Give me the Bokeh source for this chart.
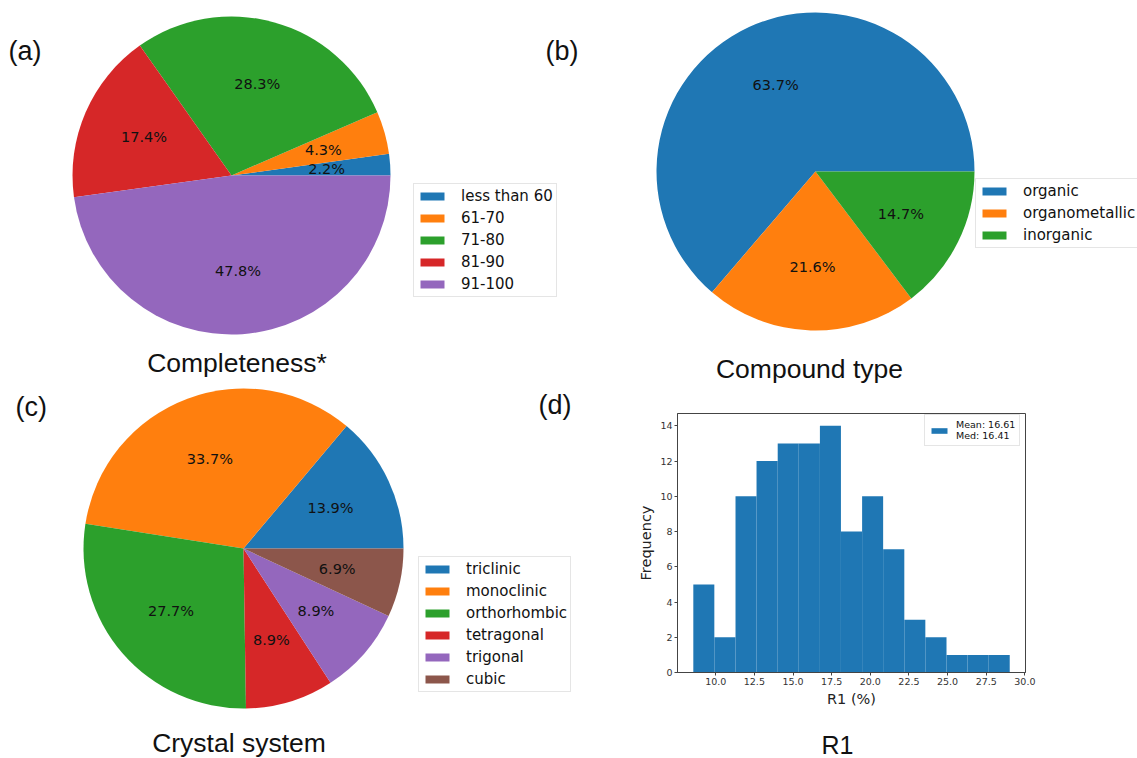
import numpy as np
from bokeh.plotting import figure
from bokeh.models import (ColumnDataSource, Range1d, Legend, LegendItem,
                          FixedTicker, PrintfTickFormatter)
from bokeh.layouts import column, row
from bokeh.core.properties import value
from bokeh.embed import file_html
from bokeh.resources import INLINE

# ---------------- data ----------------
completeness_labels = ["less than 60", "61-70", "71-80", "81-90", "91-100"]
completeness_counts = [1, 2, 13, 8, 22]

compound_labels = ["organic", "organometallic", "inorganic"]
compound_counts = [65, 22, 15]

crystal_labels = ["triclinic", "monoclinic", "orthorhombic", "tetragonal", "trigonal", "cubic"]
crystal_counts = [14, 34, 28, 9, 9, 7]

r1_bin_edges = [8.55, 9.91, 11.28, 12.64, 14.01, 15.37, 16.74, 18.10, 19.47,
                20.83, 22.20, 23.56, 24.93, 26.29, 27.66, 29.02]
r1_counts = [5, 2, 10, 12, 13, 13, 14, 8, 10, 7, 3, 2, 1, 1, 1]
r1_mean = 16.61
r1_median = 16.41
r1_xticks = [10.0, 12.5, 15.0, 17.5, 20.0, 22.5, 25.0, 27.5, 30.0]
r1_yticks = [0, 2, 4, 6, 8, 10, 12, 14]

# ---------------- style / layout ----------------
TAB = ["#1f77b4", "#ff7f0e", "#2ca02c", "#d62728", "#9467bd", "#8c564b"]
MPL_FONT = "DejaVu Sans"
TITLE_FONT = "Liberation Sans"
W, H = 1137, 758     # page size (y is flipped with H)
ROW_SPLIT = 386      # page y where the bottom row starts
COL_SPLIT = 600      # page x where the histogram panel starts
STRIP_TOP = 716      # page y where the strip under the histogram starts


def base_fig(w, h, xr, yr):
    p = figure(width=w, height=h, x_range=Range1d(*xr), y_range=Range1d(*yr),
               x_axis_type=None, y_axis_type=None, min_border=0,
               toolbar_location=None, output_backend="svg")
    p.outline_line_color = None
    p.background_fill_color = "white"
    p.border_fill_color = "white"
    p.frame_align = False
    return p


def add_text(p, x, y_center, txt, size, font, align="left"):
    p.text(x=[x], y=[H - y_center], text=[txt], text_font=value(font),
           text_font_size=size, text_align=align, text_baseline="middle",
           text_color="#111111")


def pie(p, cx, cy_page, r, labels, counts, legend_loc):
    c = np.array(counts, dtype=float)
    frac = c / c.sum()
    ends = np.cumsum(frac) * 2 * np.pi
    starts = np.concatenate([[0.0], ends[:-1]])
    mids = (starts + ends) / 2
    cy = H - cy_page
    src = ColumnDataSource(dict(
        start=starts, end=ends, color=TAB[:len(c)], label=labels,
        tx=cx + 0.6 * r * np.cos(mids), ty=cy + 0.6 * r * np.sin(mids),
        pct=[f"{100 * f:.1f}%" for f in frac]))
    wr = p.wedge(x=cx, y=cy, radius=r, start_angle="start", end_angle="end",
                 fill_color="color", line_color=None, source=src)
    p.text(x="tx", y="ty", text="pct", source=src, text_font=value(MPL_FONT),
           text_font_size="14.5px", text_align="center", text_baseline="middle",
           text_color="#111111")
    items = [LegendItem(label=l, renderers=[wr], index=i) for i, l in enumerate(labels)]
    leg = Legend(items=items, location=legend_loc, orientation="vertical",
                 label_text_font=MPL_FONT, label_text_font_size="15px",
                 label_text_color="#111111", glyph_width=30, glyph_height=10,
                 label_height=18, spacing=4, padding=3, label_standoff=14,
                 border_line_color="#cccccc", border_line_width=1,
                 background_fill_color="white", background_fill_alpha=0.8,
                 margin=0)
    p.add_layout(leg, "center")


# ---------------- top row: (a) and (b) ----------------
top = base_fig(W, ROW_SPLIT, (0, W), (H - ROW_SPLIT, H))
pie(top, 231, 175, 159, completeness_labels, completeness_counts, (413, ROW_SPLIT - 297))
pie(top, 815, 171, 159, compound_labels, compound_counts, (975, ROW_SPLIT - 248))
add_text(top, 8, 50, "(a)", "27px", TITLE_FONT)
add_text(top, 545, 50, "(b)", "27px", TITLE_FONT)
add_text(top, 236.5, 362.5, "Completeness*", "26.5px", TITLE_FONT, "center")
add_text(top, 809, 368.5, "Compound type", "26.5px", TITLE_FONT, "center")

# ---------------- bottom left: (c) ----------------
fc = base_fig(COL_SPLIT, H - ROW_SPLIT, (0, COL_SPLIT), (0, H - ROW_SPLIT))
pie(fc, 243, 548, 160, crystal_labels, crystal_counts, (418, H - 692))
add_text(fc, 15, 406.5, "(c)", "27px", TITLE_FONT)
add_text(fc, 538, 404.5, "(d)", "27px", TITLE_FONT)
add_text(fc, 238.5, 742.5, "Crystal system", "26.5px", TITLE_FONT, "center")

# ---------------- bottom right: (d) histogram ----------------
FRAME_L, FRAME_R, FRAME_T, FRAME_B = 677, 1025, 413, 672
fd = figure(width=W - COL_SPLIT, height=STRIP_TOP - ROW_SPLIT,
            x_range=Range1d(7.527, 30.04), y_range=Range1d(0, 14.7),
            toolbar_location=None, output_backend="svg",
            min_border_left=FRAME_L - COL_SPLIT, min_border_right=W - FRAME_R,
            min_border_top=FRAME_T - ROW_SPLIT, min_border_bottom=STRIP_TOP - FRAME_B)
fd.frame_align = False
fd.background_fill_color = "white"
fd.border_fill_color = "white"
fd.grid.visible = False
fd.outline_line_color = "#444444"
fd.outline_line_width = 1

hsrc = ColumnDataSource(dict(left=r1_bin_edges[:-1], right=r1_bin_edges[1:],
                             top=r1_counts, bottom=[0] * len(r1_counts)))
qr = fd.quad(left="left", right="right", top="top", bottom="bottom",
             source=hsrc, fill_color=TAB[0], line_color=None)

for ax in (fd.xaxis, fd.yaxis):
    ax.axis_line_color = "#444444"
    ax.major_tick_line_color = "#444444"
    ax.major_tick_out = 3
    ax.major_tick_in = 0
    ax.minor_tick_line_color = None
    ax.major_label_text_font = MPL_FONT
    ax.major_label_text_font_size = "9.5px"
    ax.major_label_text_color = "#333333"
    ax.major_label_standoff = 2
    ax.axis_label_text_font = MPL_FONT
    ax.axis_label_text_font_size = "14.5px"
    ax.axis_label_text_font_style = "normal"
    ax.axis_label_text_color = "#222222"
    ax.axis_label_standoff = 3

fd.xaxis.ticker = FixedTicker(ticks=r1_xticks)
fd.xaxis.formatter = PrintfTickFormatter(format="%.1f")
fd.yaxis.ticker = FixedTicker(ticks=r1_yticks)
fd.xaxis.axis_label = "R1 (%)"
fd.yaxis.axis_label = "Frequency"

leg_d = Legend(items=[LegendItem(label=f"Mean: {r1_mean:.2f}\nMed: {r1_median:.2f}",
                                 renderers=[qr])],
               location=(924 - FRAME_L, FRAME_B - 446), label_text_font=MPL_FONT,
               label_text_font_size="9.5px", label_text_color="#111111",
               glyph_width=20, glyph_height=7, padding=4, label_standoff=7,
               label_height=10, border_line_color="#cccccc",
               background_fill_alpha=0.8, margin=0,
               label_text_line_height=1.1)
fd.add_layout(leg_d, "center")

# strip under the histogram carrying the panel title "R1"
strip = base_fig(W - COL_SPLIT, H - STRIP_TOP, (COL_SPLIT, W), (0, H - STRIP_TOP))
add_text(strip, 837, 744.5, "R1", "25px", TITLE_FONT, "center")

layout = column(top, row(fc, column(fd, strip, spacing=0), spacing=0), spacing=0)

with open("out.html", "w") as f:
    f.write(file_html(layout, INLINE))
